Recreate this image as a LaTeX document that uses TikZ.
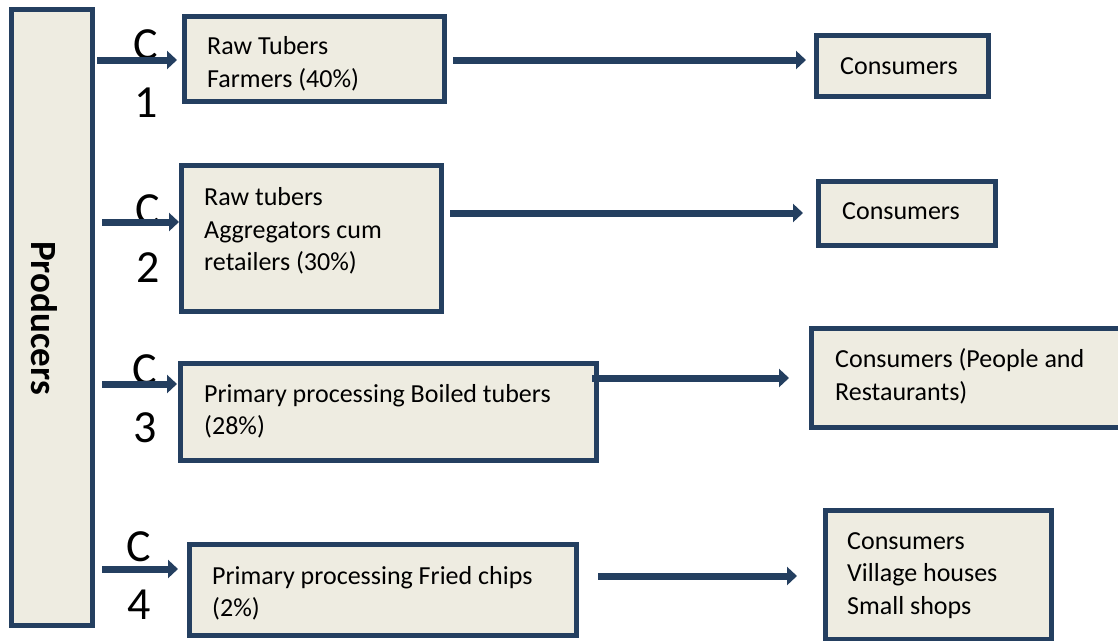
\documentclass[tikz,border=0pt]{standalone}
\usepackage{fontspec}
\setmainfont{Carlito}
\usetikzlibrary{arrows.meta}
\definecolor{edge}{HTML}{243F60}
\definecolor{paper}{HTML}{EEECE1}
\tikzset{
  box/.style={draw=edge, line width=5pt, fill=paper, rectangle, inner sep=0pt},
  txt/.style={anchor=west, inner sep=0pt, align=left, font=\fontsize{26}{32.5}\selectfont},
  clab/.style={inner sep=0pt, font=\fontsize{46}{50}\selectfont},
  arr/.style={draw=edge, line width=7pt, -{Triangle[length=10pt,width=18pt]}},
}
\begin{document}
\begin{tikzpicture}[x=1pt,y=-1pt]
\useasboundingbox (0,0) rectangle (1118,640);
\clip (0,0) rectangle (1118,640);
% boxes
\node[box, minimum width=81pt, minimum height=616pt] (prod) at (52,317.5) {};
\node[box, minimum width=260pt, minimum height=85pt] (b1) at (314.5,59) {};
\node[box, minimum width=260pt, minimum height=146pt] (b2) at (311.5,238.5) {};
\node[box, minimum width=416pt, minimum height=97pt] (b3) at (388.5,412) {};
\node[box, minimum width=387pt, minimum height=91pt] (b4) at (383,590) {};
\node[box, minimum width=172pt, minimum height=61pt] (r1) at (902.5,66) {};
\node[box, minimum width=177pt, minimum height=64pt] (r2) at (907,213.5) {};
\node[box, minimum width=318.5pt, minimum height=99pt] (r3) at (970.75,378) {};
\node[box, minimum width=226pt, minimum height=129pt] (r4) at (938.5,575) {};
% texts
\node[rotate=-90, inner sep=0pt, font=\fontsize{37}{40}\selectfont\bfseries] (ptxt) at (44,318) {Producers};
\node[txt] (t1) at (207,64) {Raw Tubers\\Farmers (40\%)};
\node[txt] (t2) at (204,231) {Raw tubers\\Aggregators cum\\retailers (30\%)};
\node[txt] (t3) at (204,411.5) {Primary processing Boiled tubers\\(28\%)};
\node[txt] (t4) at (212,593.5) {Primary processing Fried chips\\(2\%)};
\node[txt] (u1) at (840,66.5) {Consumers};
\node[txt] (u2) at (842,211.5) {Consumers};
\node[txt] (u3) at (835,376.5) {Consumers (People and\\Restaurants)};
\node[txt] (u4) at (847,575.5) {Consumers\\Village houses\\Small shops};
% C labels
\node[clab] (c1) at (146,45) {C};
\node[clab] (n1) at (146,103) {1};
\node[clab] (c2) at (148,210) {C};
\node[clab] (n2) at (148,268) {2};
\node[clab] (c3) at (145,370) {C};
\node[clab] (n3) at (145,428) {3};
\node[clab] (c4) at (139,547) {C};
\node[clab] (n4) at (139,605) {4};
% coordinates for connectors
\coordinate (a1) at (97,60);
\coordinate (a2) at (102,222);
\coordinate (a3) at (102,384);
\coordinate (a4) at (102,569);
% left arrows
\draw[arr, shorten >=5pt] (a1) -- (b1.west |- a1);
\draw[arr, shorten >=0pt] (a2) -- (b2.west |- a2);
\draw[arr, shorten >=1pt] (a3) -- (b3.west |- a3);
\draw[arr, shorten >=9pt] (a4) -- (b4.west |- a4);
% right arrows
\coordinate (s1) at (453,60);
\coordinate (s2) at (450,213);
\coordinate (s3) at (592,378);
\coordinate (s4) at (598,576);
\draw[arr, shorten >=8pt] (s1) -- (r1.west |- s1);
\draw[arr, shorten >=13pt] (s2) -- (r2.west |- s2);
\draw[arr, shorten >=20pt] (s3) -- (r3.west |- s3);
\draw[arr, shorten >=26pt] (s4) -- (r4.west |- s4);
\end{tikzpicture}
\end{document}
